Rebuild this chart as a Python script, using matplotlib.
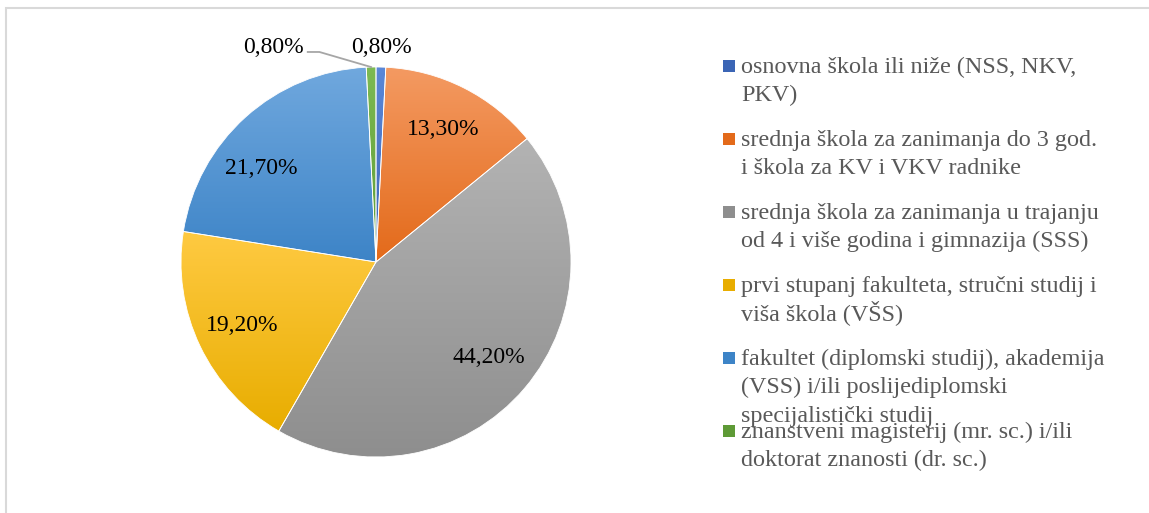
import numpy as np
import matplotlib
matplotlib.use("Agg")
import matplotlib.pyplot as plt
from matplotlib.colors import LinearSegmentedColormap
from matplotlib.patches import Rectangle

plt.rcParams['font.family'] = ['Liberation Serif', 'DejaVu Serif']

categories = [
    "osnovna škola ili niže (NSS, NKV,\nPKV)",
    "srednja škola za zanimanja do 3 god.\ni škola za KV i VKV radnike",
    "srednja škola za zanimanja u trajanju\nod 4 i više godina i gimnazija (SSS)",
    "prvi stupanj fakulteta, stručni studij i\nviša škola (VŠS)",
    "fakultet (diplomski studij), akademija\n(VSS) i/ili poslijediplomski\nspecijalistički studij",
    "znanstveni magisterij (mr. sc.) i/ili\ndoktorat znanosti (dr. sc.)",
]
values = [0.8, 13.3, 44.2, 19.2, 21.7, 0.8]
labels = ["0,80%", "13,30%", "44,20%", "19,20%", "21,70%", "0,80%"]
# light (top) / dark (bottom) gradient colours per slice
top_colors = ["#5B88D8", "#F49A62", "#B3B3B3", "#FFCA42", "#70A8DE", "#7DBA53"]
bot_colors = ["#3B65B5", "#E36A1A", "#8E8E8E", "#E8AD00", "#3D84C7", "#5E9A36"]
# small angular nudges (deg) for label placement, like Excel's best fit
label_nudge = [0, 0, 0, 0, 9, 0]

W, H = 1149, 513
fig = plt.figure(figsize=(W / 100, H / 100), dpi=100)

# chart area border (only left/top visible in the crop)
fig.patches.append(Rectangle((6 / W, -0.05), 1.2, (H - 8) / H + 0.05,
                             transform=fig.transFigure, fill=False,
                             edgecolor="#D9D9D9", lw=1.5))

cx, cy, r = 376, 262, 195
ax = fig.add_axes([(cx - r) / W, (H - cy - r) / H, 2 * r / W, 2 * r / H])

wedges, _ = ax.pie(values, startangle=90, counterclock=False,
                   wedgeprops=dict(edgecolor="white", linewidth=0.6))

for w, c0, c1 in zip(wedges, top_colors, bot_colors):
    ext = w.get_path().get_extents()
    cmap = LinearSegmentedColormap.from_list("g", [c1, c0])
    grad = np.linspace(0, 1, 256).reshape(-1, 1)
    im = ax.imshow(grad, cmap=cmap, origin="lower", aspect="auto",
                   extent=[ext.x0, ext.x1, ext.y0, ext.y1], zorder=1)
    im.set_clip_path(w)
    w.set_facecolor("none")
    w.set_zorder(2)

# percentage labels
for i, (w, lab, v) in enumerate(zip(wedges, labels, values)):
    mid = np.deg2rad((w.theta1 + w.theta2) / 2 + label_nudge[i])
    if v > 5:
        d = 0.76
        ax.text(d * np.cos(mid), d * np.sin(mid), lab, ha="center", va="center",
                fontsize=17, color="black", zorder=5)
    elif i == 0:
        ax.text(1.1 * np.cos(mid), 1.1 * np.sin(mid), lab, ha="center",
                va="center", fontsize=17, color="black", zorder=5)
    else:
        px, py = np.cos(mid), np.sin(mid)
        ax.plot([px, -0.29, -0.35], [py, 1.077, 1.077], color="#A6A6A6",
                lw=1.3, zorder=5, clip_on=False)
        ax.text(-0.37, 1.10, lab, ha="right", va="center", fontsize=17,
                color="black", zorder=5)

ax.set_xlim(-1, 1)
ax.set_ylim(-1, 1)
ax.set_aspect("equal")
ax.axis("off")

# legend
base0, step, line_h = 73, 73, 28.5
for i, (cat, c0, c1) in enumerate(zip(categories, top_colors, bot_colors)):
    yb = base0 + i * step
    fig.patches.append(Rectangle((723 / W, (H - yb + 1) / H), 12 / W, 12 / H,
                                 transform=fig.transFigure,
                                 facecolor=c1, edgecolor="none"))
    for k, line in enumerate(cat.split("\n")):
        fig.text(741 / W, (H - yb - k * line_h) / H, line, ha="left",
                 va="baseline", fontsize=17.4, color="#595959")

fig.savefig("out.png", dpi=100)
